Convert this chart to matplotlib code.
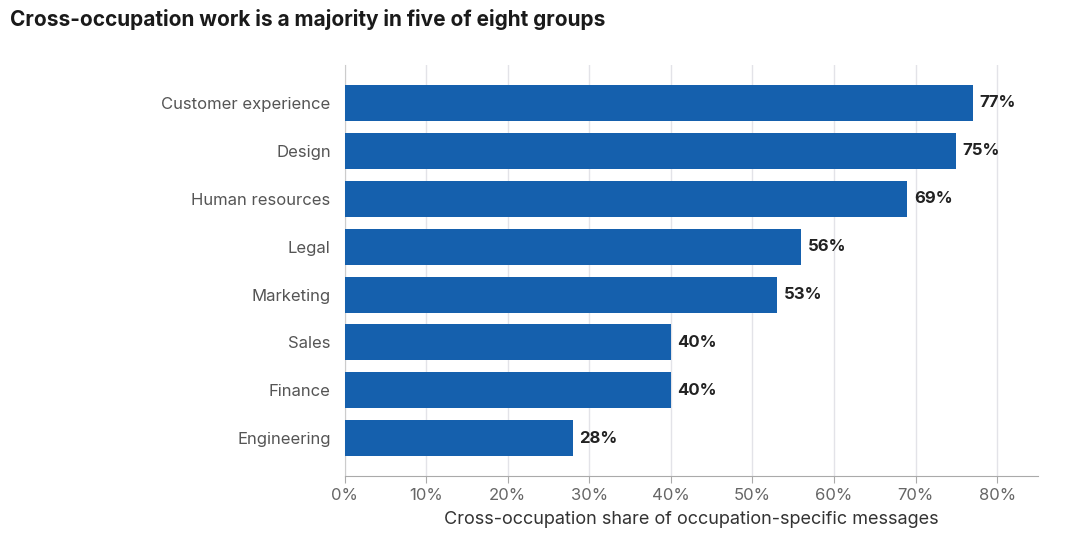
import matplotlib
matplotlib.use("Agg")

import matplotlib.pyplot as plt

groups = ["Customer experience", "Design", "Human resources", "Legal",
          "Marketing", "Sales", "Finance", "Engineering"]
shares = [77, 75, 69, 56, 53, 40, 40, 28]
ticks = [0, 10, 20, 30, 40, 50, 60, 70, 80]

plt.rcParams["font.family"] = ["Inter", "DejaVu Sans"]

fig = plt.figure(figsize=(10.8, 5.55), dpi=100)
ax = fig.add_axes([0.319, 0.142, 0.642, 0.741])

ypos = list(range(len(groups)))
ax.barh(ypos, shares, height=0.75, color="#1560ad", zorder=3)
for y, v in zip(ypos, shares):
    ax.text(v + 0.8, y, f"{v}%", va="center", ha="left",
            fontsize=12, fontweight="bold", color="#222222")

ax.set_yticks(ypos)
ax.set_yticklabels(groups, fontsize=12, color="#555555")
ax.set_ylim(7.79, -0.79)
ax.set_xlim(0, 85)
ax.set_xticks(ticks)
ax.set_xticklabels([f"{t}%" for t in ticks], fontsize=12, color="#666666")
ax.set_xlabel("Cross-occupation share of occupation-specific messages",
              fontsize=13, color="#333333", labelpad=6)

ax.grid(axis="x", color="#e3e3e8", linewidth=1, zorder=0)
for side in ["top", "right"]:
    ax.spines[side].set_visible(False)
ax.spines["left"].set_color("#cccccc")
ax.spines["bottom"].set_color("#aaaaaa")
ax.tick_params(axis="y", length=0, pad=10)
ax.tick_params(axis="x", length=5, color="#aaaaaa")

fig.text(0.009, 0.965, "Cross-occupation work is a majority in five of eight groups",
         fontsize=15, fontweight="bold", color="#1a1a1a", va="center", ha="left")

fig.savefig("out.png", dpi=100)
plt.close(fig)
